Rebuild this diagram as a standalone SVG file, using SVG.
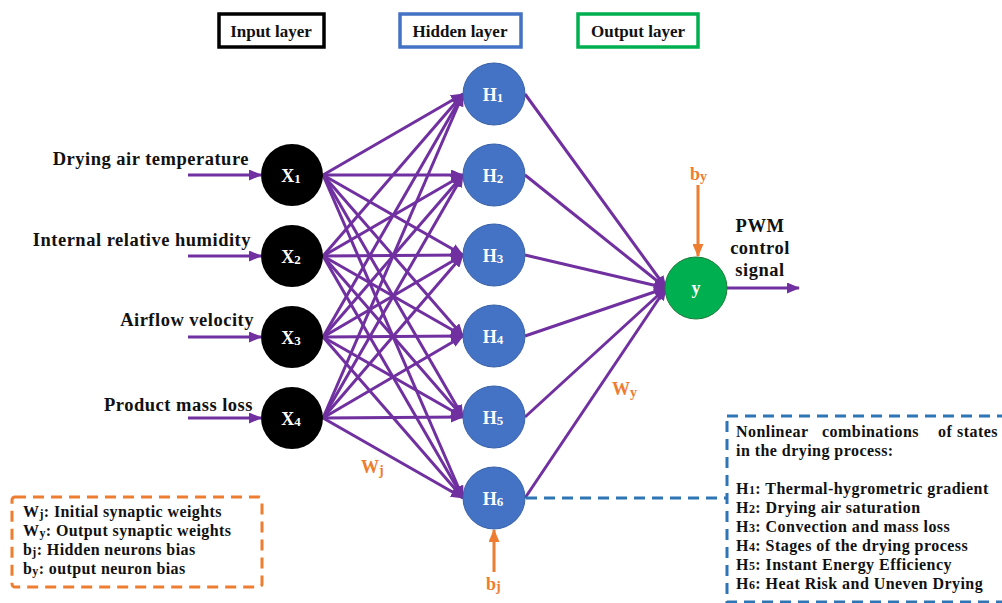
<svg xmlns="http://www.w3.org/2000/svg" width="1002" height="603" viewBox="0 0 1002 603">
<defs>
<marker id="ap" markerUnits="userSpaceOnUse" markerWidth="13" markerHeight="11" refX="12" refY="5.5" orient="auto"><path d="M0,0 L13,5.5 L0,11 z" fill="#7030A0"/></marker>
<marker id="ao" markerUnits="userSpaceOnUse" markerWidth="13" markerHeight="11" refX="12" refY="5.5" orient="auto"><path d="M0,0 L13,5.5 L0,11 z" fill="#ED7D31"/></marker>
<style>
text{font-family:"Liberation Serif","Times New Roman",serif;font-weight:bold}
.lbl{font-size:18.5px;fill:#111;letter-spacing:0.5px}
.ttl{font-size:17px;fill:#111}
.nd{font-size:18px;fill:#fff;text-anchor:middle}
.sb{font-size:13px}
.or{fill:#ED7D31;font-size:18px}
.lg{font-size:16px;fill:#111;letter-spacing:0.4px}
.bx{font-size:16px;fill:#111;letter-spacing:0.45px}
.c{stroke:#7030A0;stroke-width:3;fill:none;marker-end:url(#ap)}
.oc{stroke:#ED7D31;stroke-width:3;fill:none;marker-end:url(#ao)}
.inp{fill:#000}
.hid{fill:#4472C4;stroke:#3A62A8;stroke-width:1}
.out{fill:#00B050;stroke:#1F7A3A;stroke-width:1}
</style>
</defs>
<rect width="1002" height="603" fill="#fff"/>

<g id="titles">
<rect x="219" y="14" width="105" height="33" fill="none" stroke="#000" stroke-width="3.5"/>
<text class="ttl" x="271" y="37" text-anchor="middle">Input layer</text>
<rect x="400" y="14" width="121" height="33" fill="none" stroke="#4472C4" stroke-width="3.5"/>
<text class="ttl" x="460" y="37" text-anchor="middle">Hidden layer</text>
<rect x="578" y="14" width="120" height="33" fill="none" stroke="#00B050" stroke-width="3.5"/>
<text class="ttl" x="638" y="37" text-anchor="middle">Output layer</text>
</g>

<g id="connectors">
<path class="c" d="M188,175 H261"/>
<path class="c" d="M188,256 H261"/>
<path class="c" d="M188,337 H261"/>
<path class="c" d="M188,418 H261"/>
<path class="c" d="M323,175 L463,94"/>
<path class="c" d="M323,175 L463,175"/>
<path class="c" d="M323,175 L463,255"/>
<path class="c" d="M323,175 L463,336"/>
<path class="c" d="M323,175 L463,417"/>
<path class="c" d="M323,175 L463,498"/>
<path class="c" d="M323,256 L463,94"/>
<path class="c" d="M323,256 L463,175"/>
<path class="c" d="M323,256 L463,255"/>
<path class="c" d="M323,256 L463,336"/>
<path class="c" d="M323,256 L463,417"/>
<path class="c" d="M323,256 L463,498"/>
<path class="c" d="M323,337 L463,94"/>
<path class="c" d="M323,337 L463,175"/>
<path class="c" d="M323,337 L463,255"/>
<path class="c" d="M323,337 L463,336"/>
<path class="c" d="M323,337 L463,417"/>
<path class="c" d="M323,337 L463,498"/>
<path class="c" d="M323,418 L463,94"/>
<path class="c" d="M323,418 L463,175"/>
<path class="c" d="M323,418 L463,255"/>
<path class="c" d="M323,418 L463,336"/>
<path class="c" d="M323,418 L463,417"/>
<path class="c" d="M323,418 L463,498"/>
<path class="c" d="M525,94 L666,288"/>
<path class="c" d="M525,175 L666,288"/>
<path class="c" d="M525,255 L666,288"/>
<path class="c" d="M525,336 L666,288"/>
<path class="c" d="M525,417 L666,288"/>
<path class="c" d="M525,498 L666,288"/>
<path class="c" d="M727,288 H799"/>
<path class="oc" d="M494,572 V530"/>
<path class="oc" d="M698,185 V256"/>
<path d="M526,498 H727" stroke="#2E75B6" stroke-width="3" stroke-dasharray="11,7" fill="none"/>
</g>

<g id="input-labels">
<text class="lbl" x="249" y="165" text-anchor="end">Drying air temperature</text>
<text class="lbl" x="251" y="246" text-anchor="end">Internal relative humidity</text>
<text class="lbl" x="254" y="326" text-anchor="end">Airflow velocity</text>
<text class="lbl" x="253" y="411" text-anchor="end">Product mass loss</text>
</g>

<g id="x1"><circle class="inp" cx="292" cy="175" r="31"/><text class="nd" x="291" y="182">X<tspan class="sb" dy="1">1</tspan></text></g>
<g id="x2"><circle class="inp" cx="292" cy="256" r="31"/><text class="nd" x="291" y="263">X<tspan class="sb" dy="1">2</tspan></text></g>
<g id="x3"><circle class="inp" cx="292" cy="337" r="31"/><text class="nd" x="291" y="344">X<tspan class="sb" dy="1">3</tspan></text></g>
<g id="x4"><circle class="inp" cx="292" cy="418" r="31"/><text class="nd" x="291" y="425">X<tspan class="sb" dy="1">4</tspan></text></g>

<g id="h1"><circle class="hid" cx="494" cy="94" r="31"/><text class="nd" x="493" y="101">H<tspan class="sb" dy="1">1</tspan></text></g>
<g id="h2"><circle class="hid" cx="494" cy="175" r="31"/><text class="nd" x="493" y="182">H<tspan class="sb" dy="1">2</tspan></text></g>
<g id="h3"><circle class="hid" cx="494" cy="255" r="31"/><text class="nd" x="493" y="262">H<tspan class="sb" dy="1">3</tspan></text></g>
<g id="h4"><circle class="hid" cx="494" cy="336" r="31"/><text class="nd" x="493" y="343">H<tspan class="sb" dy="1">4</tspan></text></g>
<g id="h5"><circle class="hid" cx="494" cy="417" r="31"/><text class="nd" x="493" y="424">H<tspan class="sb" dy="1">5</tspan></text></g>
<g id="h6"><circle class="hid" cx="494" cy="498" r="31"/><text class="nd" x="493" y="505">H<tspan class="sb" dy="1">6</tspan></text></g>

<g id="y"><circle class="out" cx="696" cy="288" r="31"/><text class="nd" x="696" y="294">y</text></g>

<g id="weight-labels">
<text class="or" x="361" y="473">W<tspan font-size="14px" dy="2">j</tspan></text>
<text class="or" x="612" y="395">W<tspan font-size="14px" dy="2">y</tspan></text>
<text class="or" x="486" y="590">b<tspan font-size="14px" dy="1">j</tspan></text>
<text class="or" x="690" y="180">b<tspan font-size="14px" dy="1">y</tspan></text>
</g>

<g id="pwm">
<text class="lbl" x="760" y="232" text-anchor="middle">PWM</text>
<text class="lbl" x="760" y="254" text-anchor="middle">control</text>
<text class="lbl" x="760" y="276" text-anchor="middle">signal</text>
</g>

<g id="legend">
<rect x="12" y="497" width="250" height="90" rx="3" fill="none" stroke="#ED7D31" stroke-width="3" stroke-dasharray="11,7"/>
<text class="lg" x="23" y="517">W<tspan font-size="12px" dy="1">j</tspan><tspan dy="-1">: Initial synaptic weights</tspan></text>
<text class="lg" x="23" y="536">W<tspan font-size="12px" dy="1">y</tspan><tspan dy="-1">: Output synaptic weights</tspan></text>
<text class="lg" x="23" y="555">b<tspan font-size="12px" dy="1">j</tspan><tspan dy="-1">: Hidden neurons bias</tspan></text>
<text class="lg" x="23" y="574">b<tspan font-size="12px" dy="1">y</tspan><tspan dy="-1">: output neuron bias</tspan></text>
</g>

<g id="states-box">
<rect x="727" y="416" width="290" height="186" fill="none" stroke="#2E75B6" stroke-width="3" stroke-dasharray="11,7"/>
<text class="bx" x="736" y="437">Nonlinear</text>
<text class="bx" x="822" y="437">combinations</text>
<text class="bx" x="938" y="437">of</text>
<text class="bx" x="998" y="437" text-anchor="end">states</text>
<text class="bx" x="736" y="456">in the drying process:</text>
<text class="bx" x="736" y="494">H<tspan font-size="12px">1</tspan>: Thermal-hygrometric gradient</text>
<text class="bx" x="736" y="513">H<tspan font-size="12px">2</tspan>: Drying air saturation</text>
<text class="bx" x="736" y="532">H<tspan font-size="12px">3</tspan>: Convection and mass loss</text>
<text class="bx" x="736" y="551">H<tspan font-size="12px">4</tspan>: Stages of the drying process</text>
<text class="bx" x="736" y="570">H<tspan font-size="12px">5</tspan>: Instant Energy Efficiency</text>
<text class="bx" x="736" y="589">H<tspan font-size="12px">6</tspan>: Heat Risk and Uneven Drying</text>
</g>
</svg>
